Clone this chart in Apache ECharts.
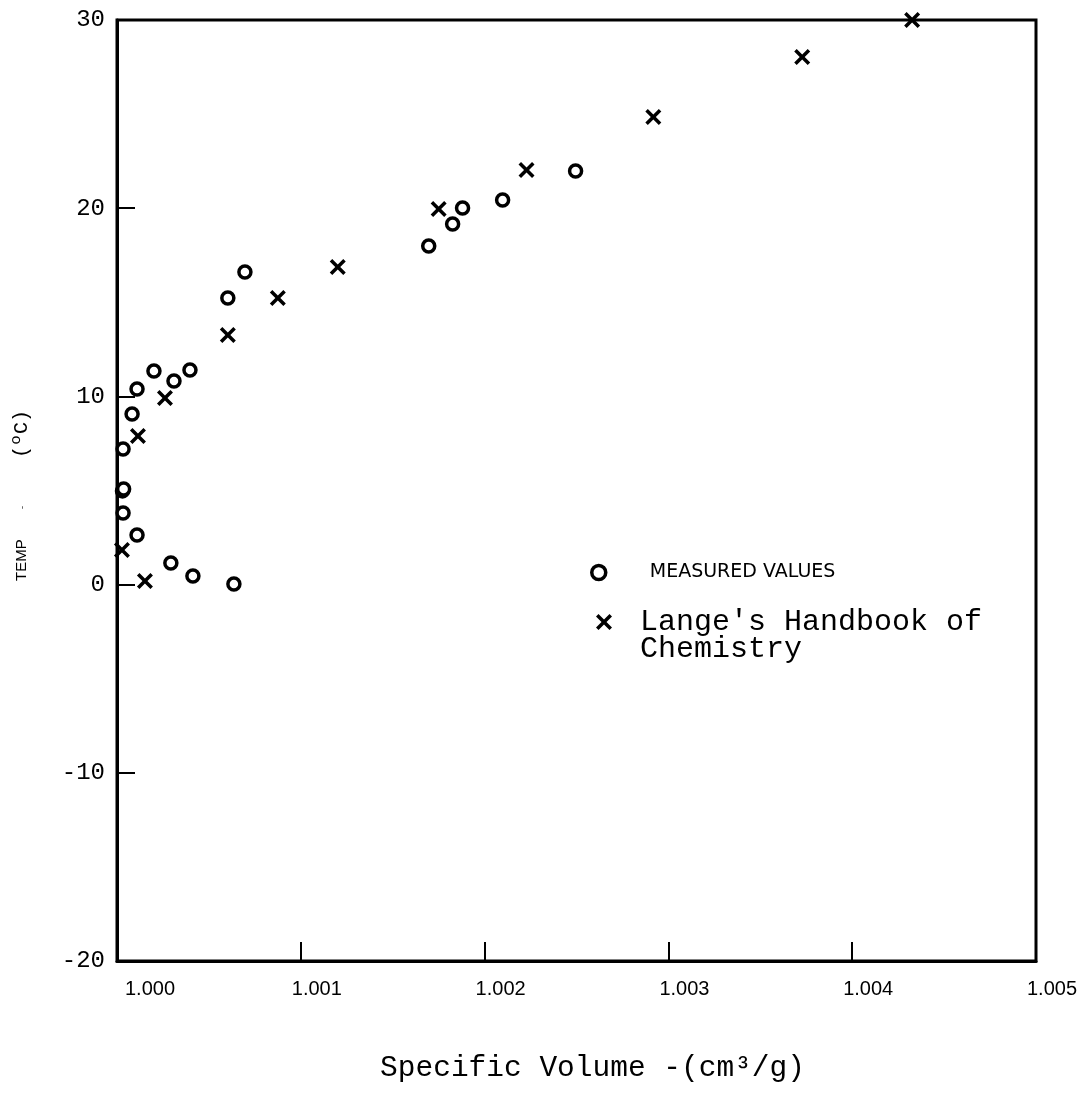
<!DOCTYPE html>
<html>
<head>
<meta charset="utf-8">
<script src="https://cdn.jsdelivr.net/npm/echarts@6/dist/echarts.min.js"></script>
<style>
  html, body { margin: 0; padding: 0; background: #fff; }
  #chart { width: 1087px; height: 1097px; }
</style>
</head>
<body>
<div id="chart"></div>
<script>
// specific volume (cm3/g) and temperature (C)
const measuredVolume = [1.002495, 1.002098, 1.00188, 1.001826, 1.001696, 1.000696, 1.000603,
  1.000201, 1.000397, 1.00031, 1.000109, 1.000082, 1.000033, 1.000030, 1.000036, 1.000033,
  1.000109, 1.000293, 1.000413, 1.000636];
const measuredTemp = [21.98, 20.44, 20.01, 19.16, 17.99, 16.61, 15.23,
  11.35, 11.40, 10.82, 10.39, 9.06, 7.21, 4.98, 5.08, 3.80,
  2.64, 1.15, 0.46, 0.03];

const langeVolume = [1.004326, 1.003728, 1.002918, 1.002228, 1.00175, 1.001201, 1.000875,
  1.000603, 1.000261, 1.000114, 1.000027, 1.000152];
const langeTemp = [30.0, 28.03, 24.85, 22.03, 19.96, 16.88, 15.23,
  13.26, 9.91, 7.90, 1.84, 0.19];

const xTicks = [1.000, 1.001, 1.002, 1.003, 1.004, 1.005];
const yTicks = [-20, -10, 0, 10, 20, 30];

const MEASURED = 'MEASURED VALUES';
const LANGE = "Lange's Handbook of Chemistry";

const crossPath = 'path://M0,2.5L2.5,0L8,5.5L13.5,0L16,2.5L10.5,8L16,13.5L13.5,16L8,10.5L2.5,16L0,13.5L5.5,8Z';

const chart = echarts.init(document.getElementById('chart'));

const option = {
  backgroundColor: '#fff',
  animation: false,
  grid: {
    left: 117,
    right: 51,
    top: 20,
    bottom: 136,
    show: true,
    borderColor: '#000',
    borderWidth: 3
  },
  legend: [
    {
      data: [MEASURED],
      left: 590,
      top: 563,
      padding: 0,
      orient: 'vertical',
      selectedMode: false,
      itemWidth: 14,
      itemHeight: 14,
      itemStyle: { borderWidth: 3.5 },
      textStyle: {
        fontFamily: 'DejaVu Sans',
        fontSize: 19,
        color: '#000',
        padding: [0, 0, 0, 39]
      }
    },
    {
      data: [LANGE],
      left: 596,
      top: 590,
      padding: 0,
      orient: 'vertical',
      selectedMode: false,
      itemWidth: 16,
      itemHeight: 16,
      formatter: () => "{e| }\n{m|Lange's Handbook of}\n{m|Chemistry}",
      textStyle: {
        color: '#000',
        padding: [0, 0, 0, 23],
        rich: {
          e: { fontSize: 10, lineHeight: 27 },
          m: { fontFamily: 'Liberation Mono', fontSize: 30, lineHeight: 27, color: '#000' }
        }
      }
    }
  ],
  xAxis: {
    type: 'value',
    min: 1.000,
    max: 1.005,
    interval: 0.001,
    name: 'Specific Volume -(cm³/g)',
    nameLocation: 'middle',
    nameGap: 92,
    nameTextStyle: {
      fontFamily: 'Liberation Mono',
      fontSize: 29.5,
      color: '#000',
      padding: [0, 0, 0, 32]
    },
    axisLine: { show: true, onZero: false, lineStyle: { color: '#000', width: 3 } },
    axisTick: { show: true, inside: true, length: 19, lineStyle: { color: '#000', width: 2 } },
    splitLine: { show: false },
    axisLabel: {
      margin: 18,
      fontFamily: 'Liberation Sans',
      fontSize: 20,
      color: '#000',
      formatter: (v, i) => (i === 0 ? '{a|' : '{b|') + xTicks[i].toFixed(3) + '}',
      rich: {
        a: { fontFamily: 'Liberation Sans', fontSize: 20, color: '#000', padding: [0, 0, 0, 66] },
        b: { fontFamily: 'Liberation Sans', fontSize: 20, color: '#000', padding: [0, 0, 0, 32] }
      }
    }
  },
  yAxis: {
    type: 'value',
    min: -20,
    max: 30,
    interval: 10,
    name: '{t|TEMP}{d|-}{u|(ºC)}',
    nameLocation: 'middle',
    nameGap: 85,
    nameRotate: 90,
    nameTextStyle: {
      color: '#000',
      padding: [0, 10, 0, 0],
      rich: {
        t: { fontFamily: 'Liberation Sans', fontSize: 15, color: '#000', padding: [0, 30, 0, 0] },
        d: { fontFamily: 'Liberation Sans', fontSize: 10, color: '#555', padding: [0, 48, 0, 0] },
        u: { fontFamily: 'Liberation Mono', fontSize: 20, color: '#000' }
      }
    },
    axisLine: { show: true, onZero: false, lineStyle: { color: '#000', width: 3 } },
    axisTick: { show: true, inside: true, length: 18, lineStyle: { color: '#000', width: 2 } },
    splitLine: { show: false },
    axisLabel: {
      margin: 12,
      fontFamily: 'Liberation Mono',
      fontSize: 24,
      color: '#000',
      formatter: (v) => String(v)
    }
  },
  series: [
    {
      name: MEASURED,
      type: 'scatter',
      symbol: 'circle',
      symbolSize: 12,
      itemStyle: { color: '#fff', borderColor: '#000', borderWidth: 3.5, opacity: 1 },
      data: measuredVolume.map((v, i) => [v, measuredTemp[i]])
    },
    {
      name: LANGE,
      type: 'scatter',
      symbol: crossPath,
      symbolSize: 16,
      itemStyle: { color: '#000', opacity: 1 },
      data: langeVolume.map((v, i) => [v, langeTemp[i]])
    }
  ]
};

chart.setOption(option);
</script>
</body>
</html>
